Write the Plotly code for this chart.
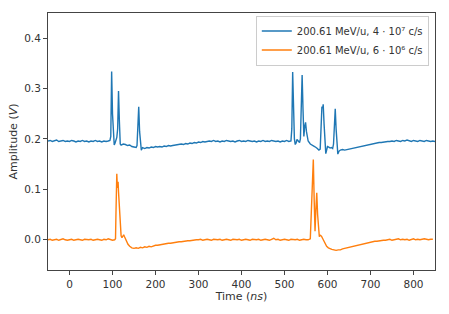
import plotly.graph_objects as go

# ---------------- data ----------------
blue_t = [-50, -45, -40, -35, -30, -25, -20, -15, -10, -5, 0, 5, 10, 15, 20, 25, 30, 35, 40, 45,
          50, 55, 60, 65, 70, 75, 80, 85, 90, 94, 96, 98, 100, 102, 104, 106, 108, 110, 112, 114,
          116, 118, 120, 125, 130, 135, 140, 145, 150, 155, 157, 159, 161, 163, 165, 167, 170, 175,
          180, 185, 190, 195, 200, 205, 210, 215, 220, 225, 230, 235, 240, 245, 250, 255, 260, 265,
          270, 275, 280, 285, 290, 295, 300, 305, 310, 315, 320, 325, 330, 335, 340, 345, 350, 355,
          360, 365, 370, 375, 380, 385, 390, 395, 400, 405, 410, 415, 420, 425, 430, 435, 440, 445,
          450, 455, 460, 465, 470, 475, 480, 485, 490, 495, 500, 505, 510, 515, 517, 519, 521, 523,
          525, 527, 529, 531, 533, 535, 537, 539, 541, 543, 545, 547, 549, 551, 553, 555, 560, 565,
          570, 575, 580, 583, 585, 587, 589, 590, 592, 594, 596, 598, 600, 603, 606, 609, 612, 614,
          616, 618, 620, 622, 624, 627, 630, 635, 640, 645, 650, 655, 660, 665, 670, 675, 680, 685,
          690, 695, 700, 705, 710, 715, 720, 725, 730, 735, 740, 745, 750, 755, 760, 765, 770, 775,
          780, 785, 790, 795, 800, 805, 810, 815, 820, 825, 830, 835, 840, 845, 850]
blue_v = [0.196, 0.197, 0.195, 0.196, 0.198, 0.195, 0.196, 0.197, 0.195, 0.196, 0.195, 0.197, 0.196,
          0.194, 0.196, 0.195, 0.197, 0.195, 0.196, 0.194, 0.196, 0.195, 0.197, 0.195, 0.196, 0.194,
          0.196, 0.195, 0.196, 0.197, 0.205, 0.334, 0.250, 0.196, 0.188, 0.192, 0.200, 0.203, 0.220,
          0.295, 0.235, 0.190, 0.188, 0.190, 0.189, 0.187, 0.188, 0.185, 0.184, 0.183, 0.187, 0.225,
          0.264, 0.215, 0.184, 0.178, 0.183, 0.181, 0.183, 0.182, 0.184, 0.183, 0.185, 0.184, 0.185,
          0.184, 0.186, 0.185, 0.187, 0.186, 0.187, 0.188, 0.188, 0.189, 0.190, 0.189, 0.191, 0.190,
          0.192, 0.191, 0.193, 0.192, 0.194, 0.193, 0.195, 0.194, 0.195, 0.196, 0.195, 0.197, 0.195,
          0.196, 0.194, 0.196, 0.195, 0.197, 0.196, 0.195, 0.196, 0.194, 0.196, 0.197, 0.195, 0.196,
          0.195, 0.197, 0.196, 0.195, 0.196, 0.194, 0.196, 0.195, 0.197, 0.195, 0.196, 0.195, 0.197,
          0.196, 0.195, 0.196, 0.194, 0.196, 0.195, 0.197, 0.195, 0.196, 0.220, 0.333, 0.260, 0.200,
          0.189, 0.192, 0.199, 0.197, 0.194, 0.193, 0.200, 0.250, 0.327, 0.260, 0.205, 0.225, 0.233,
          0.215, 0.200, 0.196, 0.190, 0.188, 0.185, 0.182, 0.178, 0.180, 0.230, 0.264, 0.262, 0.269,
          0.230, 0.180, 0.171, 0.178, 0.185, 0.184, 0.182, 0.183, 0.181, 0.190, 0.230, 0.260, 0.220,
          0.180, 0.170, 0.176, 0.178, 0.179, 0.178, 0.179, 0.180, 0.181, 0.182, 0.183, 0.184, 0.185,
          0.186, 0.187, 0.188, 0.189, 0.190, 0.191, 0.191, 0.192, 0.193, 0.193, 0.194, 0.194, 0.195,
          0.195, 0.196, 0.195, 0.197, 0.196, 0.195, 0.197, 0.196, 0.198, 0.196, 0.195, 0.197, 0.196,
          0.195, 0.197, 0.196, 0.195, 0.197, 0.196, 0.195, 0.196, 0.195]

orange_t = [-50, -45, -40, -35, -30, -25, -20, -15, -10, -5, 0, 5, 10, 15, 20, 25, 30, 35, 40, 45,
            50, 55, 60, 65, 70, 75, 80, 85, 90, 95, 100, 105, 107, 108, 110, 111, 112, 113, 114, 116,
            118, 120, 122, 124, 126, 128, 130, 133, 136, 140, 145, 150, 155, 160, 165, 170, 175, 180,
            185, 190, 195, 200, 205, 210, 215, 220, 225, 230, 235, 240, 245, 250, 255, 260, 265, 270,
            275, 280, 285, 290, 295, 300, 305, 310, 315, 320, 325, 330, 335, 340, 345, 350, 355, 360,
            365, 370, 375, 380, 385, 390, 395, 400, 405, 410, 415, 420, 425, 430, 435, 440, 445, 450,
            455, 460, 465, 470, 475, 480, 485, 490, 495, 500, 505, 510, 515, 520, 525, 530, 535, 540,
            545, 550, 555, 560, 565, 567, 569, 571, 573, 575, 577, 579, 581, 583, 586, 589, 592, 595,
            598, 602, 606, 610, 615, 620, 625, 630, 635, 640, 645, 650, 655, 660, 665, 670, 675, 680,
            685, 690, 695, 700, 705, 710, 715, 720, 725, 730, 735, 740, 745, 750, 755, 760, 765, 770,
            775, 780, 785, 790, 795, 800, 805, 810, 815, 820, 825, 830, 835, 840, 845, 850]
orange_v = [0.000, 0.001, -0.001, 0.000, 0.001, -0.001, 0.000, 0.002, 0.000, -0.001, 0.000, 0.001,
            -0.001, 0.000, 0.001, 0.000, -0.001, 0.001, 0.000, 0.000, 0.001, -0.001, 0.000, 0.001,
            0.000, -0.001, 0.001, 0.000, 0.002, 0.000, -0.001, 0.000, 0.002, 0.050, 0.131, 0.110,
            0.103, 0.115, 0.095, 0.070, 0.030, 0.008, 0.004, 0.009, 0.010, 0.006, 0.002, -0.004,
            -0.009, -0.013, -0.016, -0.017, -0.016, -0.017, -0.015, -0.016, -0.014, -0.015, -0.013,
            -0.014, -0.012, -0.011, -0.011, -0.010, -0.009, -0.009, -0.008, -0.007, -0.007, -0.006,
            -0.005, -0.005, -0.004, -0.004, -0.003, -0.003, -0.002, -0.002, -0.001, -0.001, 0.000,
            0.000, 0.001, -0.001, 0.000, 0.001, 0.000, -0.001, 0.001, 0.000, 0.000, 0.001, -0.001,
            0.000, 0.001, 0.000, -0.001, 0.001, 0.000, 0.000, 0.001, -0.001, 0.000, 0.001, 0.000,
            -0.001, 0.001, 0.000, 0.000, 0.001, -0.001, 0.000, 0.001, 0.000, -0.001, 0.001, 0.003,
            0.000, 0.001, -0.001, 0.000, 0.001, 0.000, -0.001, 0.001, 0.000, 0.000, 0.001, -0.001,
            0.000, 0.001, 0.000, 0.000, 0.002, 0.100, 0.159, 0.080, 0.017, 0.060, 0.093, 0.050,
            0.011, 0.006, 0.009, 0.007, 0.002, -0.004, -0.009, -0.013, -0.016, -0.018, -0.019,
            -0.020, -0.021, -0.020, -0.020, -0.018, -0.017, -0.016, -0.014, -0.013, -0.012, -0.011,
            -0.010, -0.009, -0.008, -0.007, -0.006, -0.005, -0.005, -0.004, -0.003, -0.003, -0.002,
            -0.002, -0.001, -0.001, 0.000, 0.001, -0.001, 0.000, 0.001, 0.002, 0.000, 0.001, 0.000,
            0.001, -0.001, 0.001, 0.002, 0.000, 0.001, 0.000, 0.001, 0.002, 0.001, 0.000, 0.001,
            0.001]

blue_name = "200.61 MeV/u, 4 · 10⁷ c/s"
orange_name = "200.61 MeV/u, 6 · 10⁶ c/s"

x_ticks = [0, 100, 200, 300, 400, 500, 600, 700, 800]
y_ticks = [0.0, 0.1, 0.2, 0.3, 0.4]

# ---------------- figure ----------------
fig = go.Figure()
fig.add_trace(go.Scatter(x=blue_t, y=blue_v, mode="lines", name=blue_name,
                         line=dict(color="#1f77b4", width=1.4)))
fig.add_trace(go.Scatter(x=orange_t, y=orange_v, mode="lines", name=orange_name,
                         line=dict(color="#ff7f0e", width=1.4)))

axis_common = dict(showgrid=False, zeroline=False, showline=True, linecolor="#444",
                   linewidth=1, mirror=True, ticks="outside", ticklen=4, tickcolor="#444",
                   tickfont=dict(size=10.5, color="#333"))

fig.update_xaxes(range=[-50, 850], tickvals=x_ticks,
                 title=dict(text="Time (<i>ns</i>)", font=dict(size=11, color="#333"), standoff=3),
                 **axis_common)
fig.update_yaxes(range=[-0.06, 0.45], tickvals=y_ticks, tickformat=".1f",
                 title=dict(text="Amplitude (<i>V</i>)", font=dict(size=11, color="#333"), standoff=4),
                 **axis_common)

fig.update_layout(
    width=449, height=314,
    margin=dict(l=48, r=14, t=13, b=44),
    paper_bgcolor="white", plot_bgcolor="white",
    font=dict(family="DejaVu Sans", color="#333"),
    legend=dict(x=0.984, y=0.99, xanchor="right", yanchor="top",
                bgcolor="rgba(255,255,255,0.8)", bordercolor="#ccc", borderwidth=1,
                font=dict(size=10, color="#333"), itemwidth=30,
                tracegroupgap=0),
)

fig.write_html("out.html", config={"displayModeBar": False},
               post_script="document.body.style.margin='0';document.body.style.padding='0';")
